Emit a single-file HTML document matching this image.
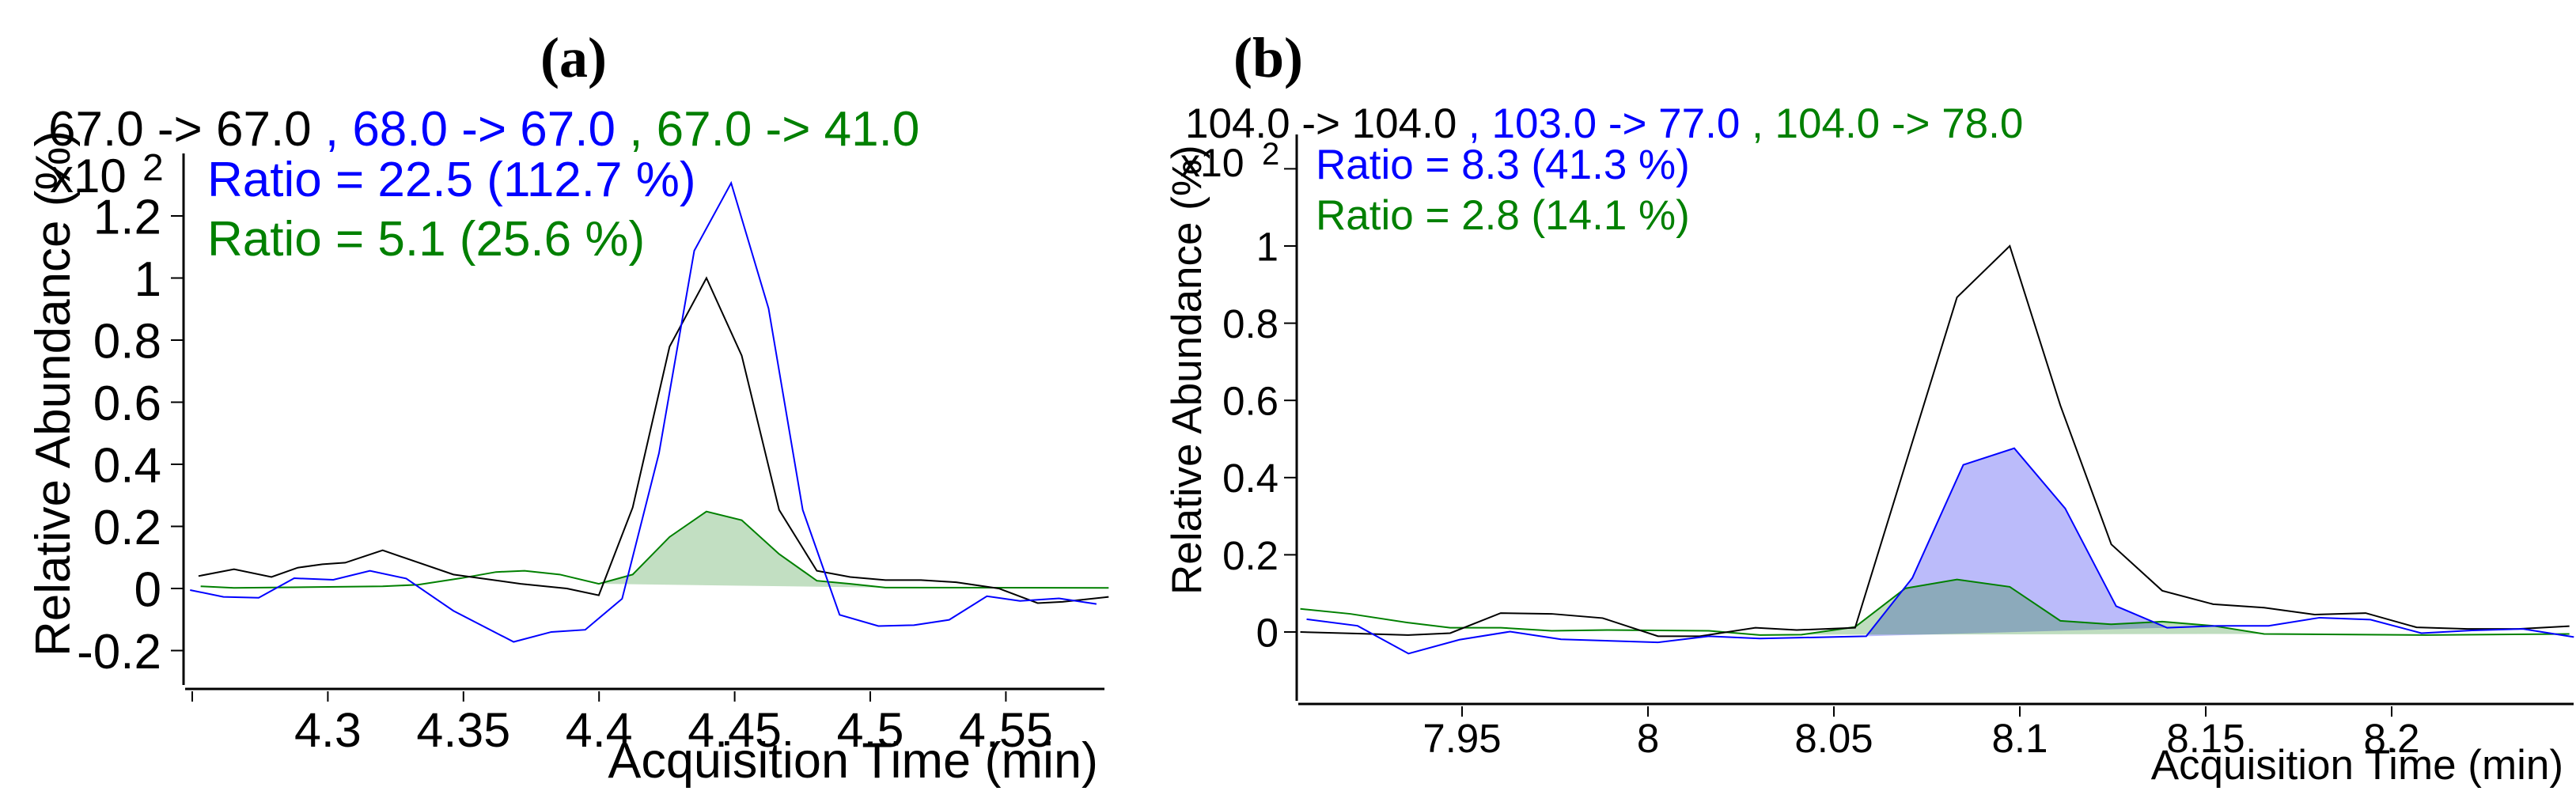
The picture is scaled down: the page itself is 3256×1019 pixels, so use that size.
<!DOCTYPE html>
<html><head><meta charset="utf-8"><style>
html,body{margin:0;padding:0;background:#fff;}
svg{display:block;font-family:"Liberation Sans",Arial,sans-serif;}
</style></head><body>
<svg id="chart" width="3256" height="1019" viewBox="0 0 3256 1019" xmlns="http://www.w3.org/2000/svg">
<rect width="3256" height="1019" fill="#fff"/>
<g id="pa">
 <text x="725" y="97" font-family="Liberation Serif,serif" font-weight="bold" font-size="72" text-anchor="middle">(a)</text>
 <text x="61" y="184" font-size="62"><tspan fill="#000">67.0 -&gt; 67.0 </tspan><tspan fill="#0000ff">, 68.0 -&gt; 67.0 </tspan><tspan fill="#008000">, 67.0 -&gt; 41.0</tspan></text>
 <text transform="translate(88,830) rotate(-90)" font-size="62">Relative Abundance (%)</text>
 <text x="63" y="243" font-size="60">x10</text>
 <text x="180" y="228" font-size="48">2</text>
 <text x="262" y="248" font-size="62" fill="#0000ff">Ratio = 22.5 (112.7 %)</text>
 <text x="262" y="323" font-size="62" fill="#008000">Ratio = 5.1 (25.6 %)</text>
 <text x="1388" y="983" font-size="63" text-anchor="end">Acquisition Time (min)</text>
</g>
<g id="pb">
 <text x="1603" y="97" font-family="Liberation Serif,serif" font-weight="bold" font-size="72" text-anchor="middle">(b)</text>
 <text x="1498" y="174" font-size="53"><tspan fill="#000">104.0 -&gt; 104.0 </tspan><tspan fill="#0000ff">, 103.0 -&gt; 77.0 </tspan><tspan fill="#008000">, 104.0 -&gt; 78.0</tspan></text>
 <text transform="translate(1518,752) rotate(-90)" font-size="53">Relative Abundance (%)</text>
 <text x="1492" y="223" font-size="50">x10</text>
 <text x="1595" y="208" font-size="40">2</text>
 <text x="1663" y="226" font-size="53" fill="#0000ff">Ratio = 8.3 (41.3 %)</text>
 <text x="1663" y="290" font-size="53" fill="#008000">Ratio = 2.8 (14.1 %)</text>
 <text x="3240" y="985" font-size="53" text-anchor="end">Acquisition Time (min)</text>
</g>
</svg>
<script>
// ---- Panel (a) data ----
const aBlackT=[4.2523,4.2654,4.2792,4.2889,4.2980,4.3064,4.3202,4.3463,4.3711,4.3881,4.3999,4.4124,4.4260,4.4396,4.4526,4.4664,4.4803,4.4926,4.5056,4.5187,4.5317,4.5474,4.5617,4.5709,4.5879];
const aBlackV=[0.04,0.062,0.037,0.067,0.078,0.083,0.123,0.045,0.015,0,-0.022,0.261,0.779,1.0,0.75,0.253,0.057,0.037,0.027,0.027,0.02,0,-0.047,-0.043,-0.027];
const aBlueT=[4.2492,4.2615,4.2745,4.2876,4.3020,4.3155,4.3289,4.3463,4.3685,4.3824,4.3949,4.4085,4.4221,4.4351,4.4487,4.4625,4.4751,4.4887,4.5030,4.5161,4.5291,4.5430,4.5552,4.5696,4.5834];
const aBlueV=[-0.005,-0.027,-0.03,0.033,0.028,0.057,0.032,-0.072,-0.172,-0.14,-0.133,-0.033,0.436,1.088,1.306,0.902,0.253,-0.085,-0.121,-0.118,-0.101,-0.025,-0.04,-0.032,-0.05];
const aGreenT=[4.2531,4.2654,4.3202,4.3333,4.3490,4.3620,4.3725,4.3855,4.3999,4.4124,4.4260,4.4396,4.4526,4.4664,4.4803,4.4926,4.5056,4.5879];
const aGreenV=[0.007,0.002,0.007,0.012,0.033,0.053,0.057,0.045,0.015,0.045,0.166,0.248,0.220,0.111,0.025,0.015,0.003,0.002];
const aGreenFill=[8,16]; // index range of integrated peak
const aXTicks=[4.25,4.3,4.35,4.4,4.45,4.5,4.55];
const aXLabels=["","4.3","4.35","4.4","4.45","4.5","4.55"];
const aYTicks=[-0.2,0,0.2,0.4,0.6,0.8,1,1.2];
const aYLabels=["-0.2","0","0.2","0.4","0.6","0.8","1","1.2"];
// ---- Panel (b) data ----
const bBlackT=[7.9065,7.9219,7.9356,7.9468,7.9604,7.9741,7.9878,8.0027,8.0139,8.0289,8.0400,8.0557,8.0831,8.0973,8.1109,8.1246,8.1383,8.1520,8.1657,8.1793,8.1930,8.2067,8.2204,8.2341,8.2478];
const bBlackV=[0,-0.004,-0.008,-0.003,0.049,0.047,0.036,-0.011,-0.011,0.011,0.005,0.011,0.867,1.0,0.587,0.227,0.107,0.072,0.063,0.045,0.049,0.012,0.008,0.008,0.015];
const bBlueT=[7.9082,7.9219,7.9356,7.9493,7.9629,7.9766,8.0027,8.0164,8.0301,8.0587,8.0711,8.0848,8.0985,8.1122,8.1259,8.1396,8.1532,8.1669,8.1806,8.1943,8.2080,8.2216,8.2353,8.2490];
const bBlueV=[0.033,0.016,-0.056,-0.02,0.001,-0.019,-0.027,-0.011,-0.017,-0.011,0.14,0.433,0.476,0.32,0.067,0.011,0.016,0.016,0.037,0.032,-0.003,0.004,0.008,-0.013];
const bBlueFill=[9,15];
const bGreenT=[7.9065,7.9199,7.9356,7.9468,7.9604,7.9741,7.9891,8.0164,8.0301,8.0413,8.0557,8.0692,8.0831,8.0973,8.1109,8.1246,8.1383,8.1520,8.1657,8.2092,8.2478];
const bGreenV=[0.06,0.047,0.024,0.011,0.011,0.003,0.005,0.003,-0.008,-0.007,0.013,0.113,0.136,0.117,0.029,0.02,0.027,0.016,-0.005,-0.008,-0.005];
const bGreenFill=[9,18];
const bXTicks=[7.95,8,8.05,8.1,8.15,8.2];
const bXLabels=["7.95","8","8.05","8.1","8.15","8.2"];
const bYTicks=[0,0.2,0.4,0.6,0.8,1,1.2];
const bYLabels=["0","0.2","0.4","0.6","0.8","1",""];

const NS="http://www.w3.org/2000/svg";
function mk(parent,tag,attrs){const e=document.createElementNS(NS,tag);for(const k in attrs)e.setAttribute(k,attrs[k]);parent.appendChild(e);return e;}

function panel(g,o){
  const X=t=>o.x0+(t-o.t0)*o.kx, Y=v=>o.y0-v*o.ky;
  // axes
  const ya=mk(g,'line',{x1:o.axX,y1:o.axTop,x2:o.axX,y2:o.axBot,stroke:'#000','stroke-width':3});
  
  
  const xa=mk(g,'line',{x1:o.axX+2,y1:o.axY,x2:o.axRight,y2:o.axY,stroke:'#000','stroke-width':3});
  
  
  o.yT.forEach((v,i)=>{
    const tk=mk(g,'line',{x1:o.axX-16,y1:Y(v),x2:o.axX,y2:Y(v),stroke:'#000','stroke-width':2});
    
    
    if(o.yL[i]){const t=mk(g,'text',{x:o.yLabX,y:Y(v)+o.yFs*0.36,'font-size':o.yFs,'text-anchor':'end'});t.textContent=o.yL[i];
    
    }
  });
  o.xT.forEach((v,i)=>{
    const tk=mk(g,'line',{x1:X(v),y1:o.axY+3,x2:X(v),y2:o.axY+16,stroke:'#000','stroke-width':2});
    
    
    if(o.xL[i]){const t=mk(g,'text',{x:X(v),y:o.xLabY,'font-size':o.xFs,'text-anchor':'middle'});t.textContent=o.xL[i];
    
    }
  });
  // fills
  o.fills.forEach(f=>{
    const pts=[];for(let i=f.r[0];i<=f.r[1];i++)pts.push(X(f.t[i])+','+Y(f.v[i]));
    const p=mk(g,'polygon',{points:pts.join(' '),fill:f.fill,stroke:f.stroke,'stroke-width':2});
    
    
  });
  o.series.forEach(s=>{
    const pts=s.t.map((t,i)=>X(t)+','+Y(s.v[i])).join(' ');
    const p=mk(g,'polyline',{points:pts,fill:'none',stroke:s.c,'stroke-width':2,'stroke-linejoin':'miter'});
    
    
  });
}
panel(document.getElementById('pa'),{x0:243,t0:4.25,kx:3428,y0:744,ky:392.5,axX:232,axTop:194,axBot:866,axY:871,axRight:1396,
  yT:aYTicks,yL:aYLabels,yLabX:204,yFs:62,xT:aXTicks,xL:aXLabels,xLabY:944,xFs:61,
  fills:[{t:aGreenT,v:aGreenV,r:aGreenFill,fill:'#c2dfc2',stroke:'none',name:'green-peak-area'}],
  series:[{t:aGreenT,v:aGreenV,c:'#008000',name:'green-trace-67-41'},{t:aBlackT,v:aBlackV,c:'#000',name:'black-trace-67-67'},{t:aBlueT,v:aBlueV,c:'#0000ff',name:'blue-trace-68-67'}]});
panel(document.getElementById('pb'),{x0:1848,t0:7.95,kx:4700,y0:799,ky:488,axX:1639,axTop:170,axBot:886,axY:890,axRight:3253,
  yT:bYTicks,yL:bYLabels,yLabX:1616,yFs:51,xT:bXTicks,xL:bXLabels,xLabY:951,xFs:51,
  fills:[{t:bBlueT,v:bBlueV,r:bBlueFill,fill:'#bbbbfa',stroke:'none',name:'blue-peak-area'},{t:bGreenT,v:bGreenV,r:bGreenFill,fill:'rgba(0,120,0,0.25)',stroke:'none',name:'green-peak-area'}],
  series:[{t:bGreenT,v:bGreenV,c:'#008000',name:'green-trace-104-78'},{t:bBlackT,v:bBlackV,c:'#000',name:'black-trace-104-104'},{t:bBlueT,v:bBlueV,c:'#0000ff',name:'blue-trace-103-77'}]});
</script>
</body></html>
